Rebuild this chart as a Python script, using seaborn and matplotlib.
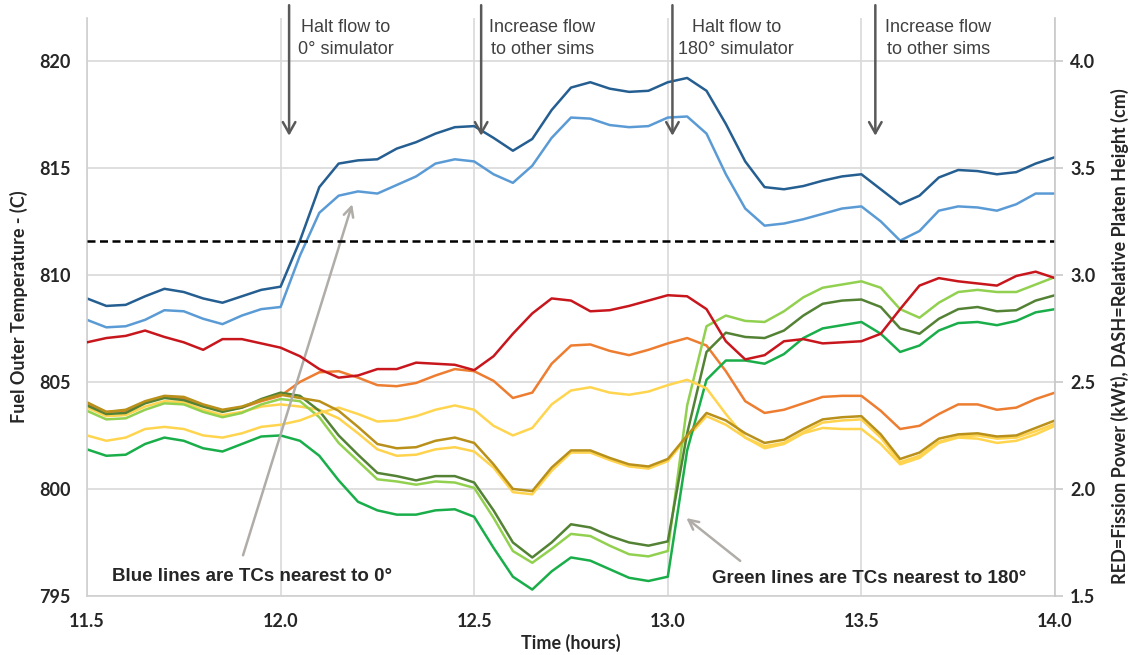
import numpy as np
import pandas as pd
import seaborn as sns
import matplotlib.pyplot as plt

sns.set_style("white")
plt.rcParams['font.family'] = ['Liberation Sans', 'DejaVu Sans']

# time axis (hours), one reading every 0.05 h
hours = np.round(np.arange(11.5, 14.0001, 0.05), 2)

# fuel outer temperatures (C)
dark_blue = [808.9, 808.55, 808.6, 809.0, 809.35, 809.2, 808.9, 808.7, 809.0, 809.3, 809.45,
             811.6, 814.1, 815.2, 815.35, 815.4, 815.9, 816.2, 816.6, 816.9, 816.95,
             816.4, 815.8, 816.35, 817.7, 818.75, 819.0, 818.7, 818.55, 818.6, 819.0,
             819.2, 818.6, 817.05, 815.3, 814.1, 814.0, 814.15, 814.4, 814.6, 814.7,
             814.0, 813.3, 813.7, 814.55, 814.9, 814.85, 814.7, 814.8, 815.2, 815.5]
light_blue = [807.9, 807.55, 807.6, 807.9, 808.35, 808.3, 807.95, 807.7, 808.1, 808.4, 808.5,
              810.9, 812.9, 813.7, 813.9, 813.8, 814.2, 814.6, 815.2, 815.4, 815.3,
              814.7, 814.3, 815.1, 816.4, 817.35, 817.3, 817.0, 816.9, 816.95, 817.35,
              817.4, 816.6, 814.7, 813.1, 812.3, 812.4, 812.6, 812.85, 813.1, 813.2,
              812.5, 811.6, 812.05, 813.0, 813.2, 813.15, 813.0, 813.3, 813.8, 813.8]
orange = [804.0, 803.6, 803.65, 804.05, 804.3, 804.25, 803.9, 803.65, 803.8, 804.1, 804.35,
          805.0, 805.45, 805.5, 805.2, 804.85, 804.8, 804.95, 805.3, 805.6, 805.5,
          805.05, 804.25, 804.5, 805.85, 806.7, 806.75, 806.45, 806.25, 806.5, 806.8,
          807.05, 806.7, 805.5, 804.1, 803.55, 803.7, 804.0, 804.3, 804.35, 804.35,
          803.65, 802.8, 802.95, 803.5, 803.95, 803.95, 803.7, 803.8, 804.2, 804.5]
yellow_upper = [802.5, 802.25, 802.4, 802.8, 802.9, 802.8, 802.5, 802.4, 802.6, 802.9, 803.0,
                803.2, 803.55, 803.8, 803.5, 803.15, 803.2, 803.4, 803.7, 803.9, 803.7,
                802.95, 802.5, 802.85, 803.95, 804.6, 804.75, 804.5, 804.4, 804.55, 804.85,
                805.1, 804.7, 803.5, 802.4, 801.9, 802.1, 802.6, 802.85, 802.8, 802.8,
                802.1, 801.15, 801.45, 802.15, 802.4, 802.35, 802.15, 802.25, 802.55, 802.95]
yellow_lower = [803.8, 803.4, 803.45, 803.85, 804.1, 804.05, 803.7, 803.45, 803.6, 803.85, 803.95,
                803.85, 803.7, 803.3, 802.6, 801.85, 801.55, 801.6, 801.85, 801.95, 801.75,
                801.0, 799.85, 799.75, 800.85, 801.7, 801.7, 801.35, 801.05, 800.95, 801.3,
                802.4, 803.4, 803.0, 802.4, 802.0, 802.15, 802.65, 803.1, 803.2, 803.25,
                802.4, 801.25, 801.55, 802.2, 802.45, 802.5, 802.35, 802.4, 802.7, 803.05]
gold = [804.05, 803.6, 803.7, 804.1, 804.35, 804.3, 803.95, 803.7, 803.85, 804.15, 804.4,
        804.25, 804.1, 803.65, 802.9, 802.1, 801.9, 801.95, 802.25, 802.4, 802.15,
        801.15, 800.0, 799.9, 801.0, 801.8, 801.8, 801.45, 801.15, 801.05, 801.4,
        802.5, 803.55, 803.2, 802.6, 802.15, 802.3, 802.8, 803.25, 803.35, 803.4,
        802.55, 801.4, 801.7, 802.35, 802.55, 802.6, 802.45, 802.5, 802.85, 803.2]
light_green = [803.65, 803.25, 803.3, 803.7, 804.0, 803.95, 803.6, 803.35, 803.55, 803.95, 804.2,
               804.1, 803.35, 802.15, 801.3, 800.45, 800.35, 800.2, 800.35, 800.3, 800.05,
               798.65, 797.1, 796.55, 797.2, 797.9, 797.8, 797.35, 796.95, 796.85, 797.1,
               803.9, 807.6, 808.1, 807.85, 807.8, 808.3, 808.95, 809.4, 809.55, 809.7,
               809.4, 808.4, 808.0, 808.7, 809.2, 809.3, 809.2, 809.2, 809.55, 809.9]
dark_green = [803.9, 803.5, 803.55, 804.0, 804.25, 804.15, 803.85, 803.6, 803.8, 804.2, 804.5,
              804.35, 803.65, 802.5, 801.6, 800.75, 800.6, 800.4, 800.6, 800.6, 800.3,
              799.0, 797.5, 796.8, 797.5, 798.35, 798.2, 797.8, 797.5, 797.35, 797.55,
              802.6, 806.4, 807.3, 807.1, 807.05, 807.4, 808.1, 808.65, 808.8, 808.85,
              808.5, 807.5, 807.25, 807.95, 808.4, 808.5, 808.3, 808.35, 808.8, 809.05]
green = [801.85, 801.55, 801.6, 802.1, 802.4, 802.25, 801.9, 801.75, 802.1, 802.45, 802.5,
         802.25, 801.55, 800.4, 799.4, 799.0, 798.8, 798.8, 799.0, 799.05, 798.7,
         797.25, 795.9, 795.3, 796.15, 796.8, 796.65, 796.25, 795.85, 795.7, 795.9,
         801.8, 805.1, 806.0, 806.0, 805.85, 806.3, 807.05, 807.5, 807.65, 807.8,
         807.25, 806.4, 806.7, 807.4, 807.75, 807.8, 807.65, 807.85, 808.25, 808.4]

# right axis series
fission_power = [2.685, 2.705, 2.715, 2.74, 2.71, 2.685, 2.65, 2.70, 2.70, 2.68, 2.66,
                 2.62, 2.56, 2.52, 2.53, 2.56, 2.56, 2.59, 2.585, 2.58, 2.555,
                 2.62, 2.725, 2.82, 2.89, 2.88, 2.83, 2.835, 2.855, 2.88, 2.905,
                 2.90, 2.84, 2.69, 2.605, 2.625, 2.69, 2.70, 2.68, 2.685, 2.69,
                 2.725, 2.84, 2.95, 2.985, 2.97, 2.96, 2.95, 2.995, 3.015, 2.985]
platen_height = 3.16

series = {'orange': orange, 'yellow_lower': yellow_lower, 'light_green': light_green,
          'dark_green': dark_green, 'green': green, 'yellow_upper': yellow_upper,
          'gold': gold, 'light_blue': light_blue, 'dark_blue': dark_blue}
colors = {'orange': '#ed7d31', 'yellow_lower': '#ffd34d', 'light_green': '#92d050',
          'dark_green': '#548235', 'green': '#1aae4a', 'yellow_upper': '#ffd54f',
          'gold': '#b8901a', 'light_blue': '#5b9bd5', 'dark_blue': '#255e91'}

df = pd.DataFrame({'hours': hours, **series}).melt(id_vars='hours', var_name='tc',
                                                    value_name='temp')

fig = plt.figure(figsize=(11.31, 6.55), dpi=100)
ax = fig.add_axes([0.0769, 0.0901, 0.8559, 0.8824])
sns.lineplot(data=df, x='hours', y='temp', hue='tc', hue_order=list(series),
             palette=colors, lw=1.8, legend=False, ax=ax)

ax.set_xlim(11.5, 14.0)
ax.set_ylim(795, 822)
ax.set_xticks([11.5, 12.0, 12.5, 13.0, 13.5, 14.0])
ax.set_xticklabels(['11.5', '12.0', '12.5', '13.0', '13.5', '14.0'])
ax.set_yticks([795, 800, 805, 810, 815, 820])
ax.grid(True, color='#d9d9d9', lw=1.2)
for s in ['top', 'right']:
    ax.spines[s].set_visible(False)
for s in ['left', 'bottom']:
    ax.spines[s].set_color('#d0d0d0')
    ax.spines[s].set_linewidth(1.2)
ax.tick_params(length=0, labelsize=13, pad=12)
for lab in ax.get_xticklabels() + ax.get_yticklabels():
    lab.set_family('Lato')
    lab.set_fontweight('bold')
ax.set_xlabel('Time (hours)', family='Lato', fontweight='bold', fontsize=13)
ax.xaxis.set_label_coords(0.5, -0.066)
ax.set_ylabel('Fuel Outer Temperature - (C)', family='Lato', fontweight='bold', fontsize=13)
ax.yaxis.set_label_coords(-0.061, 0.5)

ax2 = ax.twinx()
sns.lineplot(x=hours, y=fission_power, color='#c8161d', lw=1.8, ax=ax2)
ax2.axhline(platen_height, color='black', ls=(0, (3.2, 1.8)), lw=1.8)
ax2.set_ylim(1.5, 4.2)
ax2.set_yticks([1.5, 2.0, 2.5, 3.0, 3.5, 4.0])
ax2.set_yticklabels(['1.5', '2.0', '2.5', '3.0', '3.5', '4.0'])
for s in ['top', 'left', 'bottom']:
    ax2.spines[s].set_visible(False)
ax2.spines['right'].set_color('#c8c8c8')
ax2.spines['right'].set_linewidth(1.2)
ax2.tick_params(axis='y', length=6, color='#c8c8c8', width=1.2, labelsize=13, pad=5)
for lab in ax2.get_yticklabels():
    lab.set_family('Lato')
    lab.set_fontweight('bold')
ax2.set_ylabel('RED=Fission Power (kWt), DASH=Relative Platen Height (cm)',
               family='Lato', fontweight='bold', fontsize=13)
ax2.yaxis.set_label_coords(1.058, 0.45)

# event arrows along the top
events = [(12.022, 12.169, 'Halt flow to\n0\u00b0 simulator'),
          (12.518, 12.676, 'Increase flow\nto other sims'),
          (13.012, 13.177, 'Halt flow to\n180\u00b0 simulator'),
          (13.536, 13.699, 'Increase flow\nto other sims')]
for x_arrow, x_text, label in events:
    ax.annotate('', xy=(x_arrow, 816.5), xytext=(x_arrow, 822.6), annotation_clip=False,
                arrowprops=dict(arrowstyle='->,head_length=0.8,head_width=0.45',
                                lw=1.8, color='#595959', shrinkA=0, shrinkB=0))
    ax.text(x_text, 821.05, label, ha='center', va='center', fontsize=13,
            color='#404040', linespacing=1.4)

# callouts
ax.annotate('', xy=(12.185, 813.3), xytext=(11.903, 796.9),
            arrowprops=dict(arrowstyle='->,head_length=0.7,head_width=0.35',
                            lw=1.8, color='#b0aca8', shrinkA=0, shrinkB=0))
ax.text(11.926, 795.9, 'Blue lines are TCs nearest to 0\u00b0', ha='center', va='center',
        fontsize=13.5, fontweight='bold', color='#262626')
ax.annotate('', xy=(13.048, 798.64), xytext=(13.187, 796.64),
            arrowprops=dict(arrowstyle='->,head_length=0.7,head_width=0.35',
                            lw=1.8, color='#b0aca8', shrinkA=0, shrinkB=0))
ax.text(13.521, 795.8, 'Green lines are TCs nearest to 180\u00b0', ha='center', va='center',
        fontsize=13.5, fontweight='bold', color='#262626')

fig.savefig('out.png', dpi=100)
